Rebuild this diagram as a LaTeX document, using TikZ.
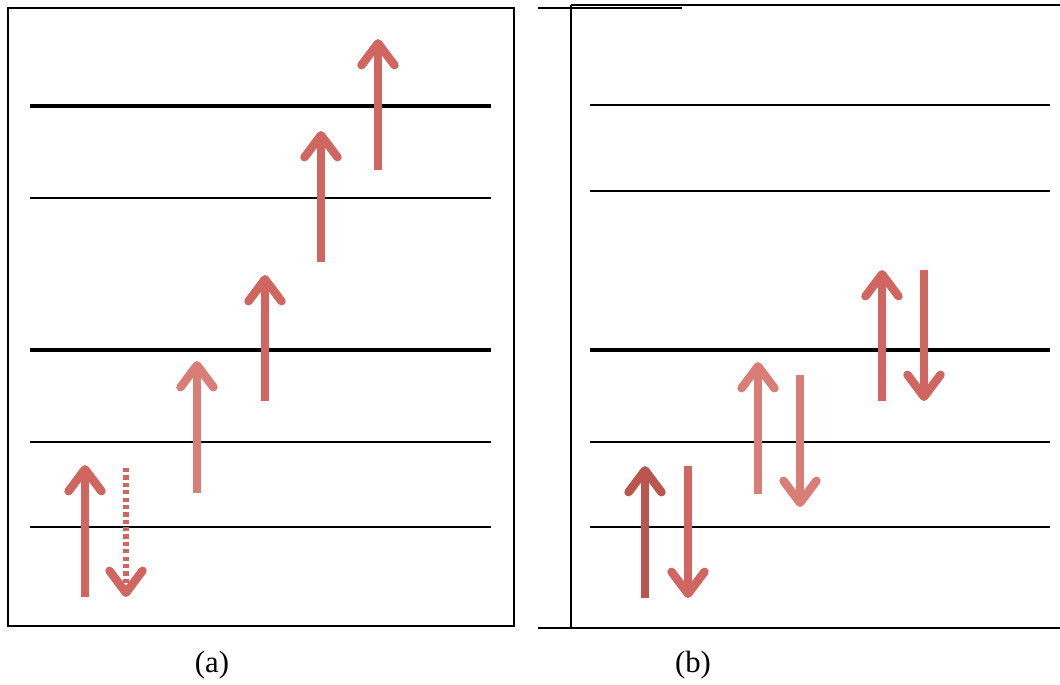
\documentclass[tikz,border=0pt]{standalone}
\usepackage{fontspec}
\setmainfont{Liberation Serif}
\usetikzlibrary{arrows.meta}
\definecolor{spin}{HTML}{D0665F}
\definecolor{spinlight}{HTML}{D87E77}
\definecolor{spindark}{HTML}{B95650}
\tikzset{
  frame/.style={draw=black, line width=1.1pt},
  lvthick/.style={draw=black, line width=2.3pt},
  lvmid/.style={draw=black, line width=1.6pt},
  lvthin/.style={draw=black, line width=1.1pt},
  spinarrow/.style={draw=spin, line width=4.6pt,
    -{Straight Barb[length=0.44cm, width=0.66cm, line width=4.8pt, round]}},
  spinarrowdotted/.style={spinarrow, line width=3.4pt, dash pattern=on 2.4pt off 1.8pt},
  caption/.style={font=\fontsize{17.5pt}{20pt}\selectfont, inner sep=0pt}
}
\begin{document}
\begin{tikzpicture}[x=0.02cm, y=-0.02cm]
\useasboundingbox (0,0) rectangle (1060,684);

% ---- panel (a) ----
\draw[frame] (8,8) rectangle (514,626);
\draw[lvthick] (30,106) -- (491,106);
\draw[lvthin]  (30,198) -- (491,198);
\draw[lvthick] (30,350) -- (491,350);
\draw[lvmid]   (30,442) -- (491,442);
\draw[lvthin]  (30,527) -- (491,527);

\coordinate (a1s) at (85,597);  \coordinate (a1e) at (85,465);
\coordinate (a0s) at (126,468); \coordinate (a0e) at (126,597);
\coordinate (a2s) at (197,493); \coordinate (a2e) at (197,361);
\coordinate (a3s) at (265,401); \coordinate (a3e) at (265,275);
\coordinate (a4s) at (321,262); \coordinate (a4e) at (321,131);
\coordinate (a5s) at (378,170); \coordinate (a5e) at (378,39);

\draw[spinarrow] (a1s) -- (a1e);
\draw[spinarrowdotted] (a0s) -- (a0e);
\draw[spinarrow, draw=spinlight] (a2s) -- (a2e);
\draw[spinarrow] (a3s) -- (a3e);
\draw[spinarrow] (a4s) -- (a4e);
\draw[spinarrow] (a5s) -- (a5e);

\node[caption] (capa) at (212,665) {(a)};

% ---- panel (b) ----
\draw[frame, line width=1.6pt] (571,5) -- (571,629);
\draw[lvthin] (571,5) -- (1060,5);
\draw[lvthin] (538,8) -- (682,8);
\draw[lvthin] (538,628) -- (1060,628);

\draw[lvthin]  (590,105) -- (1050,105);
\draw[lvmid]   (590,191) -- (1050,191);
\draw[lvthick] (590,350) -- (1050,350);
\draw[lvmid]   (590,442) -- (1050,442);
\draw[lvthin]  (590,527) -- (1050,527);

\coordinate (b1s) at (645,598); \coordinate (b1e) at (645,466);
\coordinate (b2s) at (688,466); \coordinate (b2e) at (688,598);
\coordinate (b3s) at (758,494); \coordinate (b3e) at (758,362);
\coordinate (b4s) at (800,375); \coordinate (b4e) at (800,507);
\coordinate (b5s) at (882,401); \coordinate (b5e) at (882,270);
\coordinate (b6s) at (924,270); \coordinate (b6e) at (924,401);

\draw[spinarrow, draw=spindark] (b1s) -- (b1e);
\draw[spinarrow] (b2s) -- (b2e);
\draw[spinarrow, draw=spinlight] (b3s) -- (b3e);
\draw[spinarrow, draw=spinlight] (b4s) -- (b4e);
\draw[spinarrow] (b5s) -- (b5e);
\draw[spinarrow] (b6s) -- (b6e);

\node[caption] (capb) at (693,665) {(b)};
\end{tikzpicture}
\end{document}
